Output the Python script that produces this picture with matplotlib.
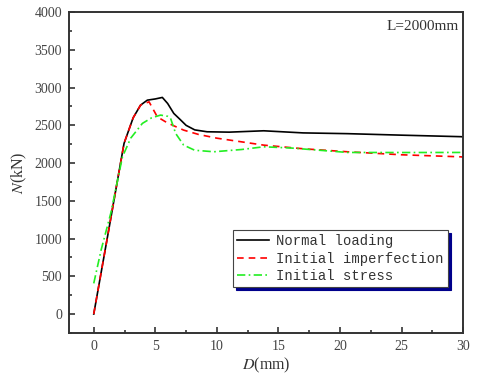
import matplotlib.pyplot as plt
from matplotlib.ticker import MultipleLocator

plt.rcParams['mathtext.fontset'] = 'stix'

# displacement D (mm) and load N (kN)
d_normal = [0, 1.2, 2.46, 3.2, 3.8, 4.35, 5.0, 5.57, 6.0, 6.5, 7.0, 7.5, 8.2, 9.2, 11, 13.8, 17, 20.6, 25, 29.8, 30]
n_normal = [0, 1100, 2261, 2600, 2768, 2834, 2850, 2870, 2790, 2658, 2580, 2500, 2440, 2415, 2410, 2428, 2400, 2390, 2370, 2350, 2348]

d_imperf = [0, 1.2, 2.46, 3.2, 3.8, 4.49, 5.16, 5.8, 6.38, 7.3, 8.5, 10, 13.8, 17, 20.6, 25, 29.8, 30]
n_imperf = [0, 1100, 2261, 2600, 2768, 2812, 2613, 2550, 2503, 2437, 2380, 2330, 2238, 2190, 2150, 2110, 2083, 2080]

d_stress = [0, 0.6, 1.38, 2.33, 3.0, 3.95, 4.7, 5.43, 6.0, 6.24, 6.65, 7.3, 8.2, 9.76, 12, 13.8, 16, 20.6, 25, 29.8, 30]
n_stress = [406, 850, 1334, 2083, 2330, 2526, 2600, 2636, 2620, 2592, 2393, 2238, 2170, 2150, 2180, 2216, 2200, 2141, 2140, 2141, 2141]

fig = plt.figure(figsize=(4.8, 3.8), dpi=100)
ax = fig.add_axes([0.144, 0.124, 0.821, 0.844])

ax.plot(d_normal, n_normal, color='black', lw=1.2, label='Normal loading')
ax.plot(d_imperf, n_imperf, color='red', lw=1.2, ls=(0, (4, 3)), label='Initial imperfection')
ax.plot(d_stress, n_stress, color='#22ee22', lw=1.2, ls=(0, (5, 2, 1, 2)), label='Initial stress')

ax.set_xlim(-2, 30)
ax.set_ylim(-250, 4000)
ax.xaxis.set_major_locator(MultipleLocator(5))
ax.xaxis.set_minor_locator(MultipleLocator(2.5))
ax.yaxis.set_major_locator(MultipleLocator(500))
ax.yaxis.set_minor_locator(MultipleLocator(250))
ax.tick_params(which='both', direction='in', top=False, right=False,
               labelsize=10, labelcolor='#444444', color='#333333')
ax.tick_params(which='major', length=4, width=1.2, pad=5)
ax.tick_params(which='minor', length=2.5, width=1.2)
for lab in ax.get_xticklabels() + ax.get_yticklabels():
    lab.set_family('Liberation Serif')
for s in ax.spines.values():
    s.set_linewidth(1.4)
    s.set_color('#333333')

ax.set_xlabel(r'$D$(mm)', family='Liberation Serif', fontsize=11.5, labelpad=2, color='#333333')
ax.set_ylabel(r'$N$(kN)', family='Liberation Serif', fontsize=11.5, labelpad=4, color='#333333')

ax.text(0.99, 0.975, 'L=2000mm', transform=ax.transAxes, ha='right', va='top',
        family='Liberation Serif', fontsize=11, color='#333333')

leg = ax.legend(loc='upper left', bbox_to_anchor=(0.416, 0.321), borderaxespad=0,
                fancybox=False, shadow={'color': '#00008b', 'alpha': 1},
                edgecolor='#444444', framealpha=1, handlelength=2.3,
                handletextpad=0.5, labelspacing=0.25, borderpad=0.3,
                prop={'family': 'Liberation Mono', 'size': 10})
leg.get_frame().set_linewidth(0.8)
for t in leg.get_texts():
    t.set_color('#333333')

fig.savefig('out.png', dpi=100)
